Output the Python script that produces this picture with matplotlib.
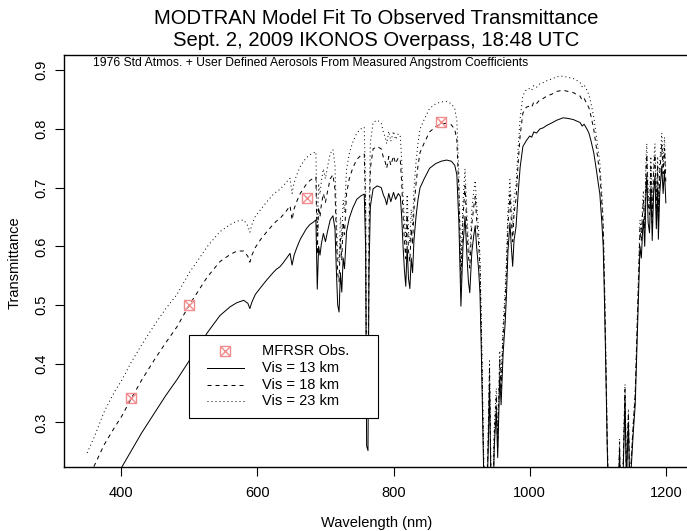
import matplotlib
matplotlib.use("Agg")
import matplotlib.pyplot as plt
from matplotlib.patches import Rectangle
from matplotlib.lines import Line2D

plt.rcParams['font.family'] = ['Liberation Sans', 'DejaVu Sans']

# ---------------- data ----------------
wavelength = [
    350, 360, 375, 390, 400, 415, 430, 450, 465, 482, 500, 515, 526, 545, 560, 570, 580, 586, 589, 592,
    597, 605, 614, 623, 628, 633, 638, 643, 648, 651, 654, 658, 663, 668, 672, 677, 682, 686, 688, 690,
    692, 694, 697, 700, 703, 707, 711, 714, 716, 718, 720, 722, 724, 726, 728, 731, 735, 740, 746, 752,
    757, 759, 760.5, 762.5, 764, 766, 770, 776, 782, 785, 788, 790, 793, 796, 800, 803, 807, 810, 812, 814,
    816, 818, 820, 822, 824, 826, 828, 830, 833, 836, 839, 845, 853, 862, 870, 878, 885, 890, 893, 896,
    899, 902, 905, 908, 910, 912, 915, 918, 920, 922, 925, 927, 929, 931, 933, 936, 939, 941, 943, 946,
    948, 951, 953, 956, 958, 961, 964, 966, 968, 971, 973, 975, 977, 980, 983, 986, 990, 995, 1000, 1003,
    1006, 1010, 1015, 1020, 1025, 1032, 1040, 1049, 1056, 1064, 1070, 1074, 1077, 1080, 1084, 1087, 1090, 1094, 1098, 1101,
    1103, 1106, 1108, 1110, 1112, 1114, 1117, 1125, 1130, 1132, 1134, 1137, 1140, 1142, 1145, 1147, 1150, 1152, 1155, 1157,
    1159, 1161, 1162, 1164, 1166, 1167, 1169, 1171, 1172, 1174, 1176, 1178, 1180, 1182, 1184, 1186, 1188, 1189, 1191, 1193,
    1194, 1196, 1198, 1200,
]

vis13 = [
    0.120, 0.145, 0.178, 0.205, 0.222, 0.252, 0.282, 0.318, 0.345, 0.373, 0.405, 0.432, 0.452, 0.482, 0.497, 0.504, 0.508, 0.503, 0.494, 0.505,
    0.518, 0.530, 0.543, 0.555, 0.561, 0.565, 0.572, 0.580, 0.588, 0.568, 0.585, 0.598, 0.612, 0.622, 0.630, 0.637, 0.641, 0.645, 0.527, 0.600,
    0.585, 0.604, 0.622, 0.608, 0.625, 0.645, 0.652, 0.630, 0.560, 0.500, 0.488, 0.555, 0.522, 0.580, 0.562, 0.625, 0.648, 0.665, 0.680, 0.686,
    0.689, 0.600, 0.260, 0.252, 0.560, 0.668, 0.698, 0.703, 0.700, 0.688, 0.680, 0.671, 0.690, 0.676, 0.692, 0.680, 0.690, 0.685, 0.650, 0.600,
    0.560, 0.532, 0.600, 0.545, 0.528, 0.580, 0.555, 0.610, 0.650, 0.680, 0.700, 0.715, 0.733, 0.741, 0.745, 0.747, 0.745, 0.738, 0.722, 0.640,
    0.498, 0.600, 0.651, 0.580, 0.540, 0.521, 0.590, 0.620, 0.635, 0.600, 0.560, 0.520, 0.420, 0.300, 0.180, 0.120, 0.250, 0.362, 0.200, 0.150,
    0.260, 0.320, 0.240, 0.378, 0.330, 0.418, 0.470, 0.520, 0.590, 0.640, 0.600, 0.566, 0.610, 0.634, 0.690, 0.735, 0.770, 0.780, 0.788, 0.786,
    0.795, 0.793, 0.800, 0.802, 0.806, 0.810, 0.815, 0.819, 0.818, 0.816, 0.813, 0.811, 0.805, 0.808, 0.800, 0.793, 0.780, 0.760, 0.730, 0.705,
    0.690, 0.640, 0.600, 0.500, 0.380, 0.250, 0.120, 0.080, 0.150, 0.253, 0.120, 0.200, 0.339, 0.200, 0.300, 0.180, 0.240, 0.280, 0.330, 0.407,
    0.480, 0.560, 0.600, 0.580, 0.630, 0.646, 0.600, 0.700, 0.720, 0.640, 0.623, 0.700, 0.610, 0.690, 0.720, 0.630, 0.700, 0.612, 0.690, 0.720,
    0.737, 0.690, 0.730, 0.674,
]

vis18 = [
    0.200, 0.225, 0.262, 0.291, 0.309, 0.341, 0.372, 0.409, 0.435, 0.463, 0.500, 0.527, 0.547, 0.574, 0.586, 0.592, 0.592, 0.583, 0.573, 0.585,
    0.598, 0.612, 0.625, 0.637, 0.643, 0.647, 0.654, 0.661, 0.669, 0.645, 0.664, 0.677, 0.690, 0.699, 0.706, 0.712, 0.716, 0.718, 0.586, 0.667,
    0.650, 0.671, 0.690, 0.675, 0.693, 0.715, 0.722, 0.697, 0.619, 0.553, 0.540, 0.613, 0.577, 0.641, 0.620, 0.690, 0.715, 0.733, 0.748, 0.755,
    0.757, 0.659, 0.320, 0.318, 0.615, 0.733, 0.766, 0.770, 0.766, 0.752, 0.743, 0.733, 0.753, 0.738, 0.754, 0.741, 0.751, 0.746, 0.708, 0.653,
    0.609, 0.579, 0.653, 0.592, 0.574, 0.630, 0.603, 0.663, 0.706, 0.738, 0.760, 0.776, 0.795, 0.804, 0.808, 0.810, 0.807, 0.799, 0.781, 0.692,
    0.538, 0.648, 0.703, 0.626, 0.583, 0.563, 0.637, 0.669, 0.685, 0.647, 0.604, 0.561, 0.453, 0.323, 0.194, 0.129, 0.269, 0.390, 0.215, 0.161,
    0.280, 0.345, 0.258, 0.407, 0.355, 0.450, 0.506, 0.559, 0.635, 0.688, 0.645, 0.608, 0.656, 0.681, 0.741, 0.789, 0.827, 0.837, 0.839, 0.837,
    0.846, 0.843, 0.850, 0.852, 0.856, 0.859, 0.864, 0.866, 0.864, 0.862, 0.858, 0.856, 0.849, 0.852, 0.843, 0.836, 0.822, 0.800, 0.768, 0.741,
    0.725, 0.673, 0.631, 0.525, 0.399, 0.263, 0.126, 0.084, 0.158, 0.266, 0.126, 0.210, 0.356, 0.210, 0.315, 0.189, 0.252, 0.294, 0.347, 0.427,
    0.504, 0.588, 0.630, 0.609, 0.661, 0.678, 0.630, 0.735, 0.756, 0.672, 0.654, 0.735, 0.640, 0.724, 0.756, 0.661, 0.735, 0.643, 0.724, 0.756,
    0.774, 0.724, 0.767, 0.708,
]

vis23 = [
    0.248, 0.274, 0.318, 0.352, 0.370, 0.403, 0.432, 0.468, 0.493, 0.518, 0.555, 0.580, 0.599, 0.625, 0.637, 0.643, 0.645, 0.635, 0.624, 0.637,
    0.651, 0.663, 0.676, 0.688, 0.693, 0.697, 0.703, 0.710, 0.716, 0.690, 0.709, 0.722, 0.736, 0.745, 0.751, 0.756, 0.759, 0.761, 0.621, 0.707,
    0.689, 0.711, 0.732, 0.715, 0.735, 0.758, 0.765, 0.739, 0.656, 0.586, 0.572, 0.650, 0.612, 0.679, 0.658, 0.731, 0.758, 0.777, 0.793, 0.800,
    0.803, 0.699, 0.335, 0.332, 0.652, 0.777, 0.811, 0.815, 0.810, 0.795, 0.785, 0.775, 0.796, 0.779, 0.796, 0.782, 0.792, 0.787, 0.747, 0.688,
    0.642, 0.610, 0.688, 0.624, 0.605, 0.663, 0.635, 0.698, 0.743, 0.776, 0.800, 0.816, 0.835, 0.843, 0.846, 0.847, 0.843, 0.834, 0.815, 0.721,
    0.561, 0.675, 0.732, 0.651, 0.606, 0.585, 0.662, 0.696, 0.712, 0.673, 0.627, 0.583, 0.470, 0.336, 0.201, 0.134, 0.280, 0.405, 0.224, 0.168,
    0.291, 0.358, 0.268, 0.422, 0.369, 0.467, 0.525, 0.580, 0.659, 0.714, 0.669, 0.631, 0.680, 0.706, 0.768, 0.818, 0.857, 0.867, 0.869, 0.866,
    0.874, 0.871, 0.877, 0.879, 0.882, 0.885, 0.889, 0.890, 0.888, 0.886, 0.882, 0.879, 0.872, 0.875, 0.866, 0.858, 0.844, 0.821, 0.788, 0.760,
    0.744, 0.690, 0.647, 0.538, 0.409, 0.269, 0.129, 0.086, 0.162, 0.272, 0.129, 0.215, 0.365, 0.215, 0.323, 0.194, 0.258, 0.301, 0.355, 0.438,
    0.516, 0.603, 0.645, 0.624, 0.678, 0.695, 0.645, 0.753, 0.775, 0.688, 0.670, 0.753, 0.656, 0.742, 0.775, 0.678, 0.753, 0.659, 0.742, 0.775,
    0.793, 0.742, 0.786, 0.726,
]

obs_wavelength = [415, 500, 673, 870]
obs_transmittance = [0.342, 0.500, 0.683, 0.811]

xticks = [400, 600, 800, 1000, 1200]
yticks = [0.3, 0.4, 0.5, 0.6, 0.7, 0.8, 0.9]

title_lines = ["MODTRAN Model Fit To Observed Transmittance",
               "Sept. 2, 2009 IKONOS Overpass, 18:48 UTC"]
note = "1976 Std Atmos. + User Defined Aerosols From Measured Angstrom Coefficients"
legend_labels = ["MFRSR Obs.", "Vis = 13 km", "Vis = 18 km", "Vis = 23 km"]

# ---------------- figure ----------------
W, H = 687, 531
fig = plt.figure(figsize=(W / 100, H / 100), dpi=100)
L, R, T, B = 64, 689, 55, 467
ax = fig.add_axes([L / W, 1 - B / H, (R - L) / W, (B - T) / H])

lw = 0.72
dash_style = (0, (4, 4))
dot_style = (0, (1, 3))
marker_color = '#F28C8C'
ax.plot(wavelength, vis13, color='black', lw=lw, linestyle='-')
ax.plot(wavelength, vis18, color='black', lw=lw, linestyle=dash_style)
ax.plot(wavelength, vis23, color='black', lw=lw, linestyle=dot_style)
ax.plot(obs_wavelength, obs_transmittance, linestyle='none', marker='s', ms=6.5,
        mfc='none', mec=marker_color, mew=1.0, zorder=4)
ax.plot(obs_wavelength, obs_transmittance, linestyle='none', marker='x', ms=6.5,
        mec=marker_color, mew=1.0, zorder=4)

ax.set_xlim(316, 1234)
ax.set_ylim(0.224, 0.926)
ax.set_xticks(xticks)
ax.set_xticklabels([str(v) for v in xticks])
ax.set_yticks(yticks)
ax.set_yticklabels([f"{v:.1f}" for v in yticks], rotation=90, va='center')
ax.tick_params(axis='both', direction='out', length=6.5, width=0.8, labelsize=10.5)
ax.tick_params(axis='x', pad=7)
ax.tick_params(axis='y', pad=5)
for s in ax.spines.values():
    s.set_linewidth(1.0)

ax.set_xlabel("Wavelength (nm)", fontsize=10.5, labelpad=12)
fig.text(15 / W, 1 - 263 / H, "Transmittance", rotation=90, ha='center', va='center', fontsize=10.5)

fig.text(376 / W, 1 - 19 / H, title_lines[0], ha='center', va='center', fontsize=14.6)
fig.text(376 / W, 1 - 40 / H, title_lines[1], ha='center', va='center', fontsize=14.6)
fig.text(93 / W, 1 - 63 / H, note, ha='left', va='center', fontsize=8.7)

# ---------------- legend (drawn in axes fraction) ----------------
def ax_x(px):
    return (px - L) / (R - L)

def ax_y(py):
    return (B - py) / (B - T)

bx0, bx1, by0, by1 = 189, 378, 335, 418
ax.add_patch(Rectangle((ax_x(bx0), ax_y(by1)), ax_x(bx1) - ax_x(bx0), ax_y(by0) - ax_y(by1),
                       transform=ax.transAxes, facecolor='white', edgecolor='black',
                       lw=0.8, zorder=5))
rows = [351, 368, 385, 401]
hx0, hx1, mx, tx = 207, 244, 225, 262
styles = ['-', dash_style, dot_style]
ax.add_line(Line2D([ax_x(mx)], [ax_y(rows[0])], transform=ax.transAxes, linestyle='none',
                   marker='s', ms=6.5, mfc='none', mec=marker_color, mew=1.0, zorder=6))
ax.add_line(Line2D([ax_x(mx)], [ax_y(rows[0])], transform=ax.transAxes, linestyle='none',
                   marker='x', ms=6.5, mec=marker_color, mew=1.0, zorder=6))
for r, st in zip(rows[1:], styles):
    ax.add_line(Line2D([ax_x(hx0), ax_x(hx1)], [ax_y(r), ax_y(r)], transform=ax.transAxes,
                       color='black', lw=lw, linestyle=st, zorder=6))
for r, lab in zip(rows, legend_labels):
    ax.text(ax_x(tx), ax_y(r), lab, transform=ax.transAxes, ha='left', va='center',
            fontsize=10.5, zorder=6)

fig.savefig("out.png", dpi=100)
